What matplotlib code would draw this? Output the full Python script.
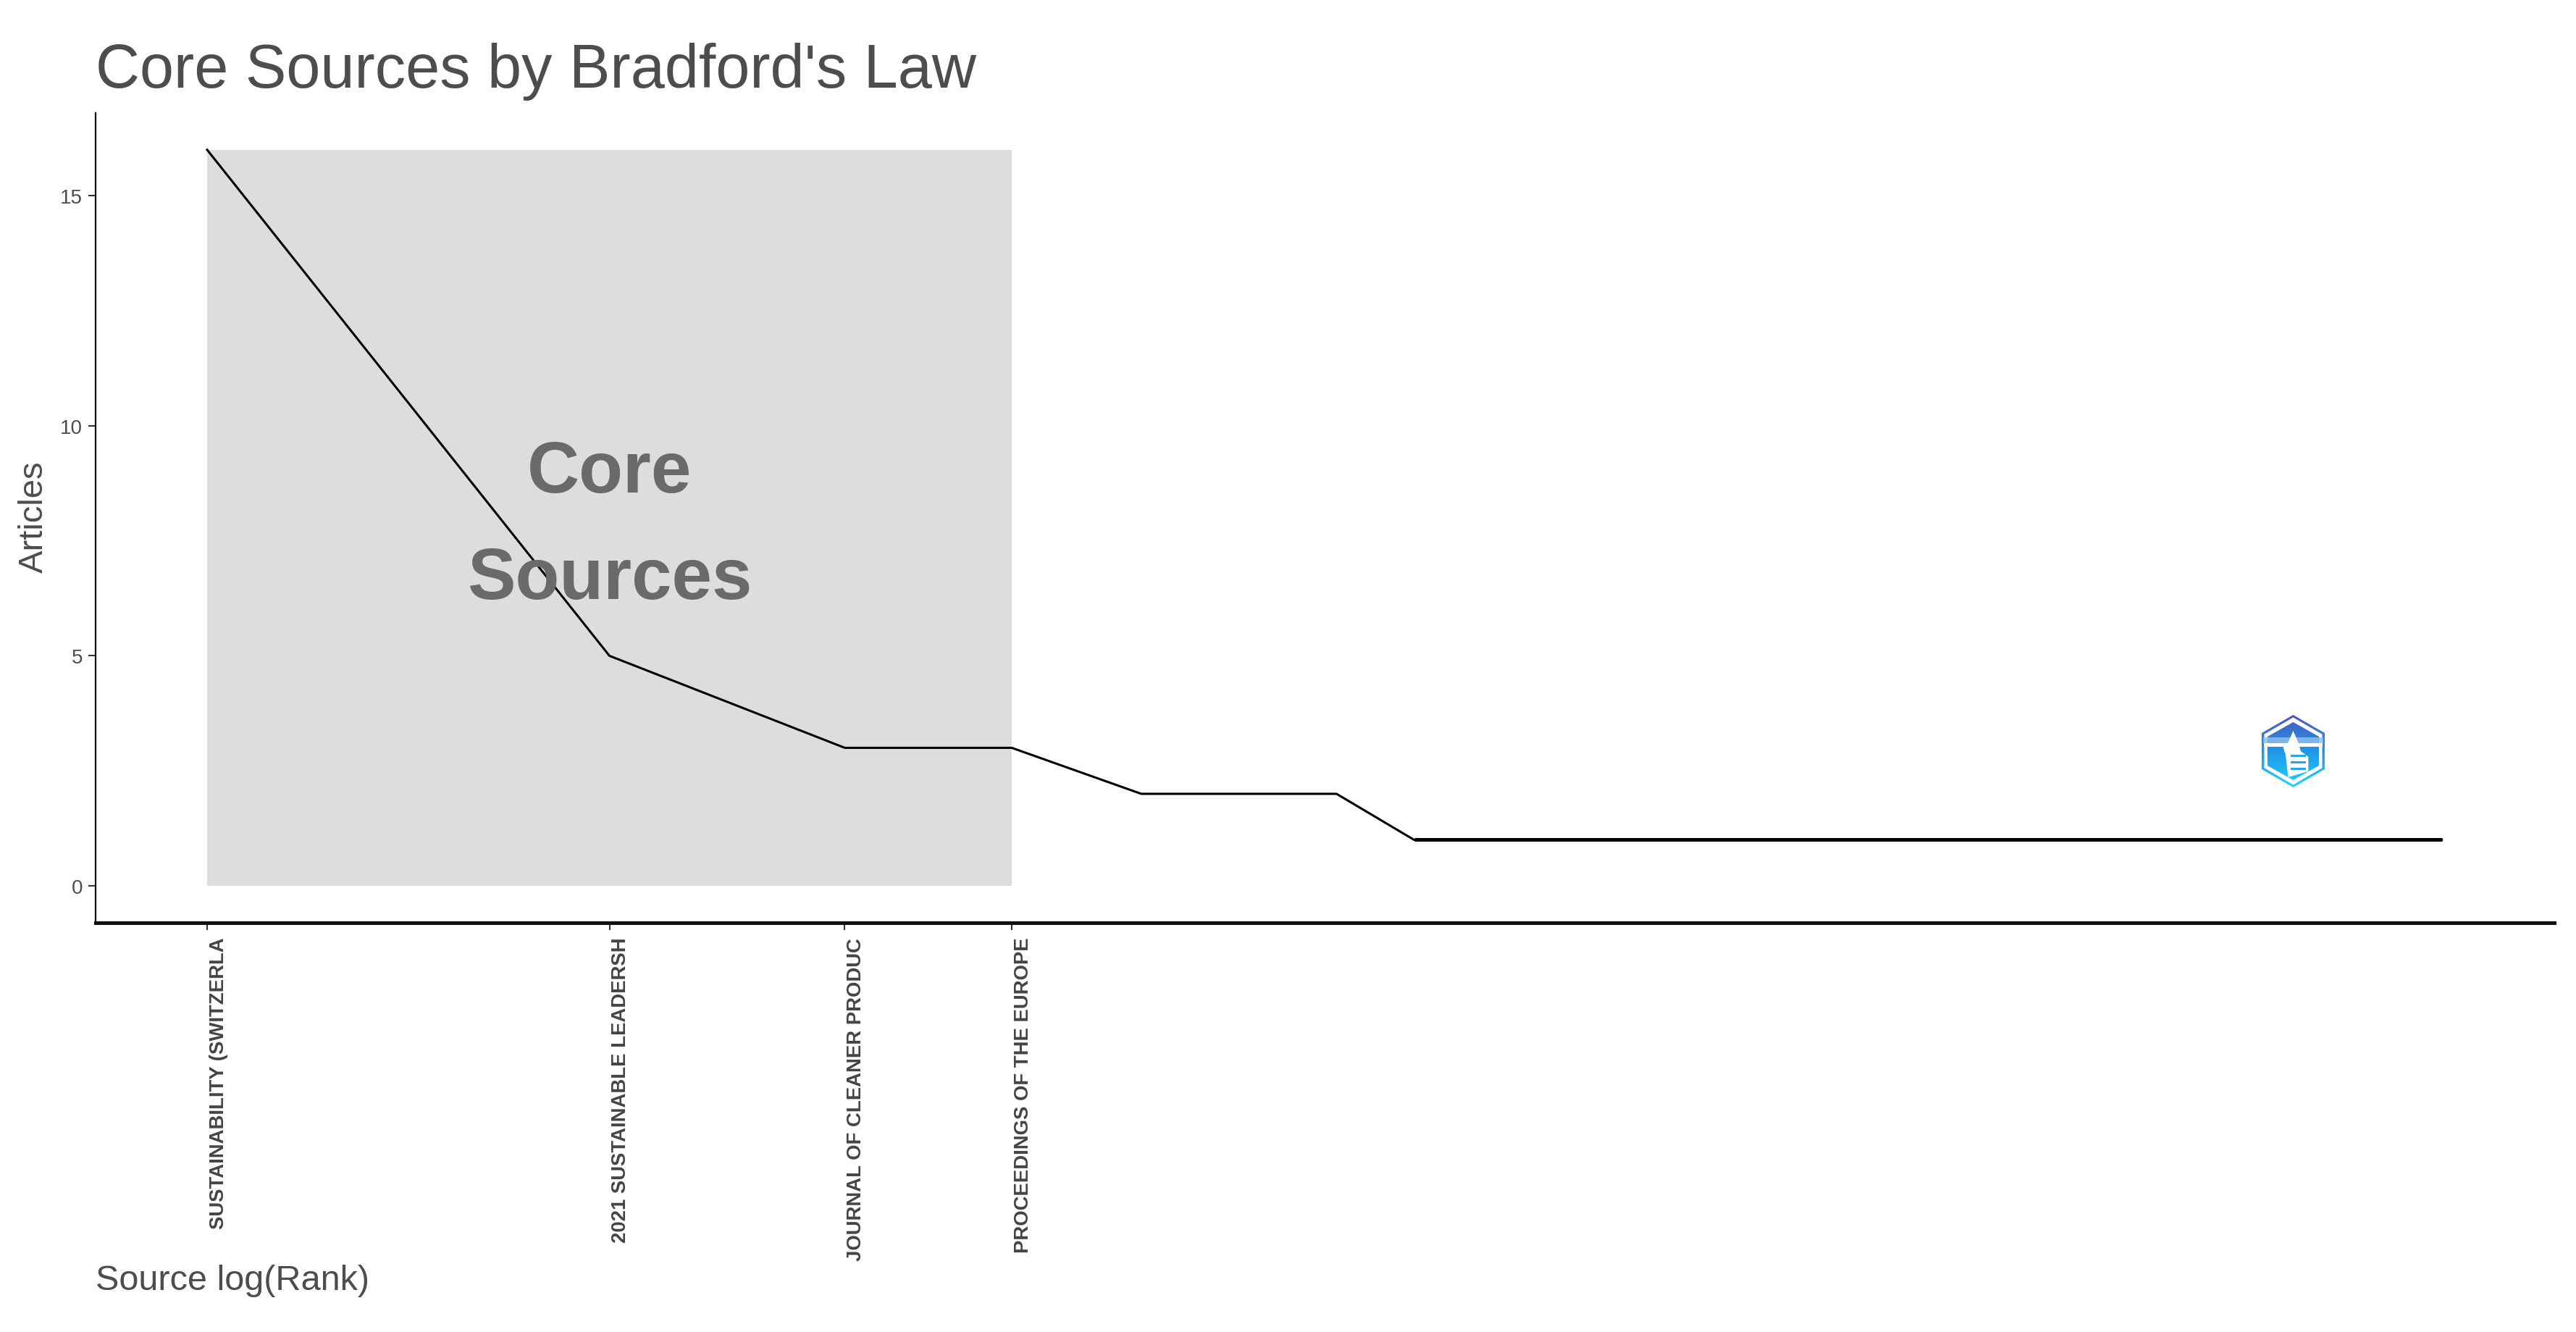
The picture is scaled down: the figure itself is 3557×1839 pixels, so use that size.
import numpy as np
import matplotlib
matplotlib.use("Agg")
import matplotlib.pyplot as plt
from matplotlib.path import Path
from matplotlib.patches import PathPatch, Rectangle, Polygon
from matplotlib.transforms import ScaledTranslation

plt.rcParams['font.family'] = ['Liberation Sans', 'DejaVu Sans']

# Data
ranks = list(range(1, 48))
articles = [16, 5, 3, 3, 2, 2, 2] + [1] * 40
core_ranks = [1, 2, 3, 4]
core_labels = ["SUSTAINABILITY (SWITZERLA", "2021 SUSTAINABLE LEADERSH",
               "JOURNAL OF CLEANER PRODUC", "PROCEEDINGS OF THE EUROPE"]
y_ticks = [0, 5, 10, 15]

W, H = 3557, 1840
fig = plt.figure(figsize=(W / 100, H / 100), dpi=100, facecolor='white')
L, R, T, B = 132, 3527, 157, 1275
ax = fig.add_axes([L / W, 1 - B / H, (R - L) / W, (B - T) / H])

logx = np.log(ranks)
ax.add_patch(Rectangle((0, 0), np.log(core_ranks[-1]), max(articles),
                       facecolor='#dddddd', edgecolor='none', zorder=1))
ax.plot(logx, articles, color='black', lw=2.2, zorder=2, solid_joinstyle='round')
# the run of single-article sources renders heavier in the reference
tail_x = [x for x, a in zip(logx, articles) if a == 1]
tail_y = [a for a in articles if a == 1]
ax.plot(tail_x, tail_y, color='black', lw=3.6, zorder=2, solid_capstyle='butt')

ax.set_xlim(-0.1922, 4.044)
ax.set_ylim(-0.803, 16.80)
for s in ('top', 'right'):
    ax.spines[s].set_visible(False)
ax.spines['left'].set_linewidth(1.6)
ax.spines['left'].set_color('#111111')
ax.spines['bottom'].set_linewidth(3.6)
ax.spines['bottom'].set_color('#111111')

ax.set_yticks(y_ticks)
ax.tick_params(axis='y', length=7.2, width=1.5, pad=5.8, labelsize=20, labelcolor='#4d4d4d', color='#333333')
ax.set_xticks(np.log(core_ranks))
ax.set_xticklabels(core_labels, rotation=90, fontsize=19.8, fontweight='bold', color='#444444',
                   ha='left', va='top', rotation_mode='default')
ax.tick_params(axis='x', length=7.2, width=1.5, pad=7, color='#333333')
shift = ScaledTranslation(2.5 / 100, 0, fig.dpi_scale_trans)
for lab in ax.get_xticklabels():
    lab.set_transform(lab.get_transform() + shift)

ax.text(np.log(core_ranks[1]), 7.82, "Core\nSources", ha='center', va='center', fontsize=71.8,
        fontweight='bold', color='#6a6a6a', linespacing=1.73, zorder=3)

fig.text(132 / W, 1 - 99 / H, "Core Sources by Bradford's Law", fontsize=60.9, color='#4d4d4d',
         ha='left', va='center')
fig.text(47 / W, 1 - 714 / H, "Articles", fontsize=34, color='#4d4d4d', rotation=90,
         ha='center', va='center')
fig.text(132 / W, 1 - 1769 / H, "Source log(Rank)", fontsize=35, color='#4d4d4d',
         ha='left', va='center')

# Logo watermark
lx0, lx1, ly0, ly1 = 3123, 3210, 988, 1088
lg = fig.add_axes([lx0 / W, 1 - ly1 / H, (lx1 - lx0) / W, (ly1 - ly0) / H])
lg.set_xlim(0, 1); lg.set_ylim(0, 1); lg.axis('off')
def hexagon(sx, sy):
    pts = [(0.5, 0.5 + sy), (0.5 + sx, 0.5 + sy / 2), (0.5 + sx, 0.5 - sy / 2),
           (0.5, 0.5 - sy), (0.5 - sx, 0.5 - sy / 2), (0.5 - sx, 0.5 + sy / 2), (0.5, 0.5 + sy)]
    return pts
outer, inner, core = hexagon(0.5, 0.5), hexagon(0.46, 0.465), hexagon(0.41, 0.40)
verts = outer + inner[::-1] + core
codes = ([Path.MOVETO] + [Path.LINETO] * 5 + [Path.CLOSEPOLY]) * 3
clip = PathPatch(Path(verts, codes), transform=lg.transData, facecolor='none', edgecolor='none')
lg.add_patch(clip)
cmap = matplotlib.colors.LinearSegmentedColormap.from_list('logo', ['#4a58bd', '#2196e8', '#1cd4ff'])
im = lg.imshow(np.linspace(0, 1, 200)[:, None], extent=(0, 1, 0, 1), aspect='auto', cmap=cmap, origin='upper')
im.set_clip_path(clip)
lg.add_patch(Rectangle((0.04, 0.56), 0.92, 0.05, facecolor='white', edgecolor='none', zorder=3))
lg.add_patch(Rectangle((0.02, 0.61), 0.96, 0.08, facecolor='#8cc0ee', edgecolor='none', alpha=0.8, zorder=3))
lg.add_patch(Polygon([(0.5, 0.78), (0.58, 0.62), (0.62, 0.5), (0.74, 0.42), (0.74, 0.22), (0.42, 0.14),
                      (0.38, 0.45), (0.34, 0.55), (0.42, 0.62)], facecolor='white', edgecolor='none', zorder=4))
for yy in (0.42, 0.33, 0.24):
    lg.add_patch(Rectangle((0.46, yy), 0.24, 0.03, facecolor='#1fa8ee', edgecolor='none', zorder=5))

fig.savefig('out.png', dpi=100, facecolor='white')
